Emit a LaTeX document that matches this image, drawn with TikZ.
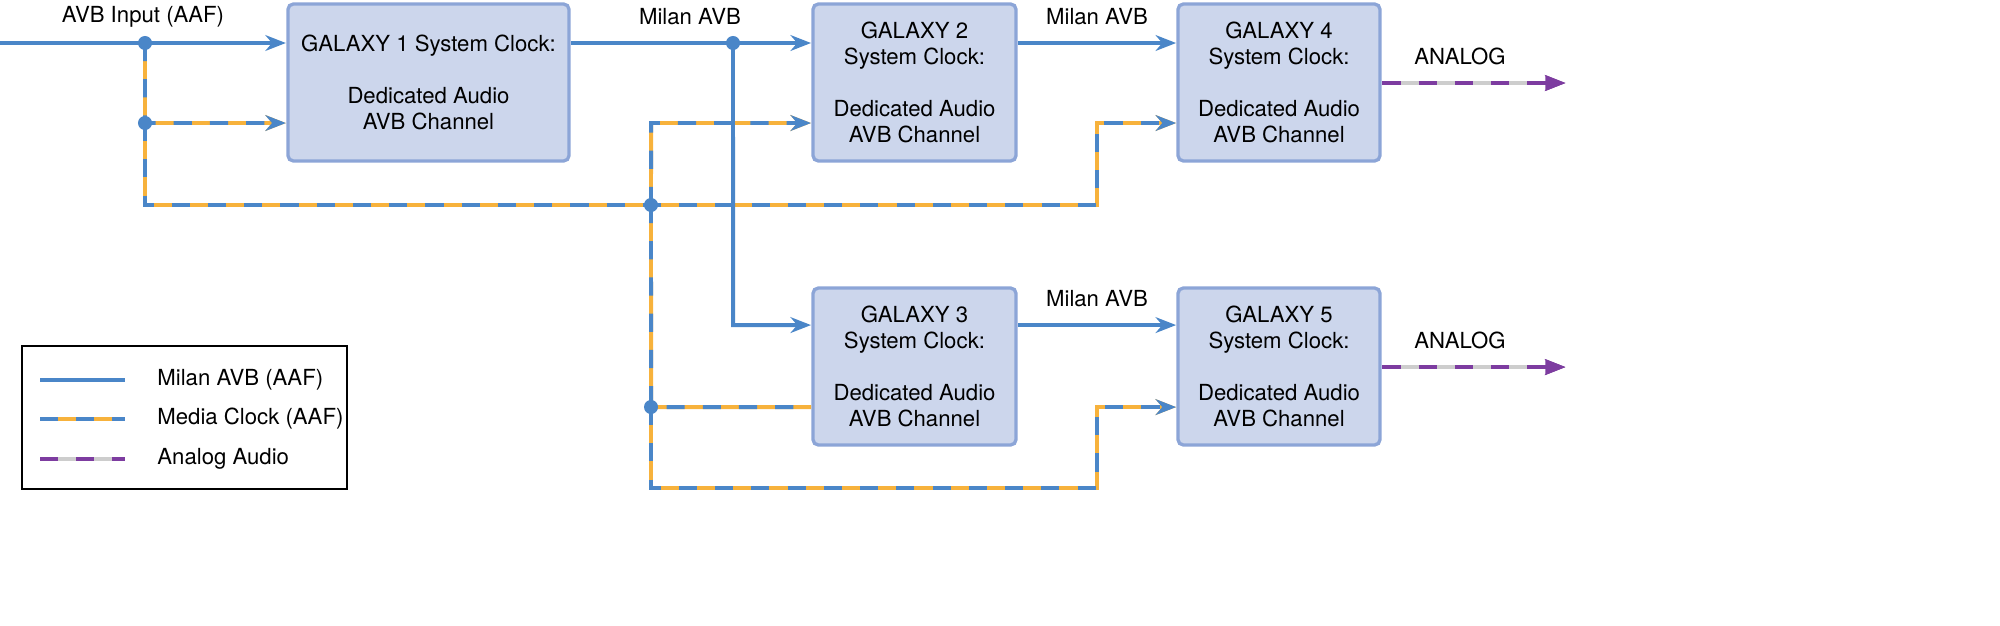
\documentclass[tikz,border=0pt]{standalone}
\usepackage{fontspec}
\setmainfont{TeX Gyre Heros}
\usetikzlibrary{arrows.meta}
\definecolor{avbblue}{RGB}{74,134,200}
\definecolor{clkorange}{RGB}{247,178,60}
\definecolor{boxfill}{RGB}{204,214,236}
\definecolor{boxline}{RGB}{140,165,215}
\definecolor{anpurple}{RGB}{125,60,160}
\definecolor{angrey}{RGB}{205,205,205}
\begin{document}
\begin{tikzpicture}[
    x=0.01cm, y=-0.01cm, scale=1.27,
    every node/.append style={transform shape},
    font=\fontsize{6.3pt}{7.4pt}\selectfont,
    galaxy/.style={
      rectangle,
      rounded corners=2pt,
      draw=boxline,
      fill=boxfill,
      line width=1.2pt,
      align=center,
      minimum height=1.57cm,
      inner sep=0pt
    },
    joint/.style={
      circle,
      fill=avbblue,
      inner sep=0pt,
      minimum size=0.14cm
    },
    milan/.style={draw=avbblue, line width=1.4pt},
    mclk/.style={draw=clkorange, line width=1.4pt,
      postaction={draw=avbblue, dash pattern=on 2.3mm off 2.3mm}},
    analog/.style={draw=angrey, line width=1.4pt,
      postaction={draw=anpurple, dash pattern=on 2.3mm off 2.3mm}},
    tip/.style={-{Stealth[length=0.26cm,width=0.2cm]}}
  ]

  % boxes
  \node (g1) at (428.5,82.5) [galaxy,minimum width=2.81cm]{GALAXY 1 System Clock:\\ \\Dedicated Audio\\AVB Channel};
  \node (g2) at (914.5,82.5) [galaxy,minimum width=2.03cm]{GALAXY 2\\System Clock:\\ \\Dedicated Audio\\AVB Channel};
  \node (g4) at (1279,82.5) [galaxy,minimum width=2.02cm]{GALAXY 4\\System Clock:\\ \\Dedicated Audio\\AVB Channel};
  \node (g3) at (914.5,366.5) [galaxy,minimum width=2.03cm]{GALAXY 3\\System Clock:\\ \\Dedicated Audio\\AVB Channel};
  \node (g5) at (1279,366.5) [galaxy,minimum width=2.02cm]{GALAXY 5\\System Clock:\\ \\Dedicated Audio\\AVB Channel};

  % corners and free ends
  \coordinate (in) at (0,43);
  \coordinate (c1) at (145,205);
  \coordinate (c2) at (1097,205);
  \coordinate (c3) at (1097,123);
  \coordinate (c4) at (651,123);
  \coordinate (c5) at (651,488);
  \coordinate (c6) at (1097,488);
  \coordinate (c7) at (1097,407);
  \coordinate (c8) at (733,325);
  \coordinate (c9) at (145,123);
  \coordinate (c10) at (651,407);
  \coordinate (a1) at (1565,83);
  \coordinate (a2) at (1565,367);

  % media clock
  \draw[mclk,tip] (145,43) -- (c9) -- (g1.west |- c9);
  \draw[mclk,tip] (c9) -- (c1) -- (c2) -- (c3) -- (g4.west |- c3);
  \draw[mclk,tip] (651,205) -- (c4) -- (g2.west |- c4);
  \draw[mclk] (651,205) -- (c10) -- (g3.west |- c10);
  \draw[mclk,tip] (c10) -- (c5) -- (c6) -- (c7) -- (g5.west |- c7);

  % milan avb
  \draw[milan,tip] (in) -- (g1.west |- in);
  \draw[milan,tip] (g1.east |- in) -- (g2.west |- in);
  \draw[milan,tip] (733,43) -- (c8) -- (g3.west |- c8);
  \draw[milan,tip] (g2.east |- in) -- (g4.west |- in);
  \draw[milan,tip] (g3.east |- c8) -- (g5.west |- c8);

  % analog
  \draw[analog,tip] (g4.east |- a1) -- (a1);
  \draw[analog,tip] (g5.east |- a2) -- (a2);
  \fill[anpurple] (a1) ++(-20,-8) -- ++(20,8) -- ++(-20,8) -- cycle;
  \fill[anpurple] (a2) ++(-20,-8) -- ++(20,8) -- ++(-20,8) -- cycle;

  % joints
  \node (j1) at (145,43) [joint]{};
  \node (j2) at (145,123) [joint]{};
  \node (j3) at (733,43) [joint]{};
  \node (j4) at (651,205) [joint]{};
  \node (j5) at (651,407) [joint]{};

  % labels
  \node (l1) at (143,17) {AVB Input (AAF)};
  \node (l2) at (690,17) {Milan AVB};
  \node (l3) at (1097,17) {Milan AVB};
  \node (l4) at (1097,299) {Milan AVB};
  \node (l5) at (1460,56) {ANALOG};
  \node (l6) at (1460,340) {ANALOG};

  % legend
  \node (leg) at (184.5,417.5) [draw=black,line width=0.8pt,minimum width=3.25cm,minimum height=1.43cm]{};
  \coordinate (k1) at (40,380); \coordinate (k1e) at (125,380);
  \coordinate (k2) at (40,419); \coordinate (k2e) at (125,419);
  \coordinate (k3) at (40,459); \coordinate (k3e) at (125,459);
  \draw[milan] (k1) -- (k1e);
  \draw[mclk] (k2) -- (k2e);
  \draw[analog] (k3) -- (k3e);
  \node (t1) at (145,380) [anchor=west]{Milan AVB (AAF)};
  \node (t2) at (145,419) [anchor=west]{Media Clock (AAF)};
  \node (t3) at (145,459) [anchor=west]{Analog Audio};

  \pgfresetboundingbox
  \useasboundingbox (0,0) rectangle (2000,626);
\end{tikzpicture}
\end{document}
